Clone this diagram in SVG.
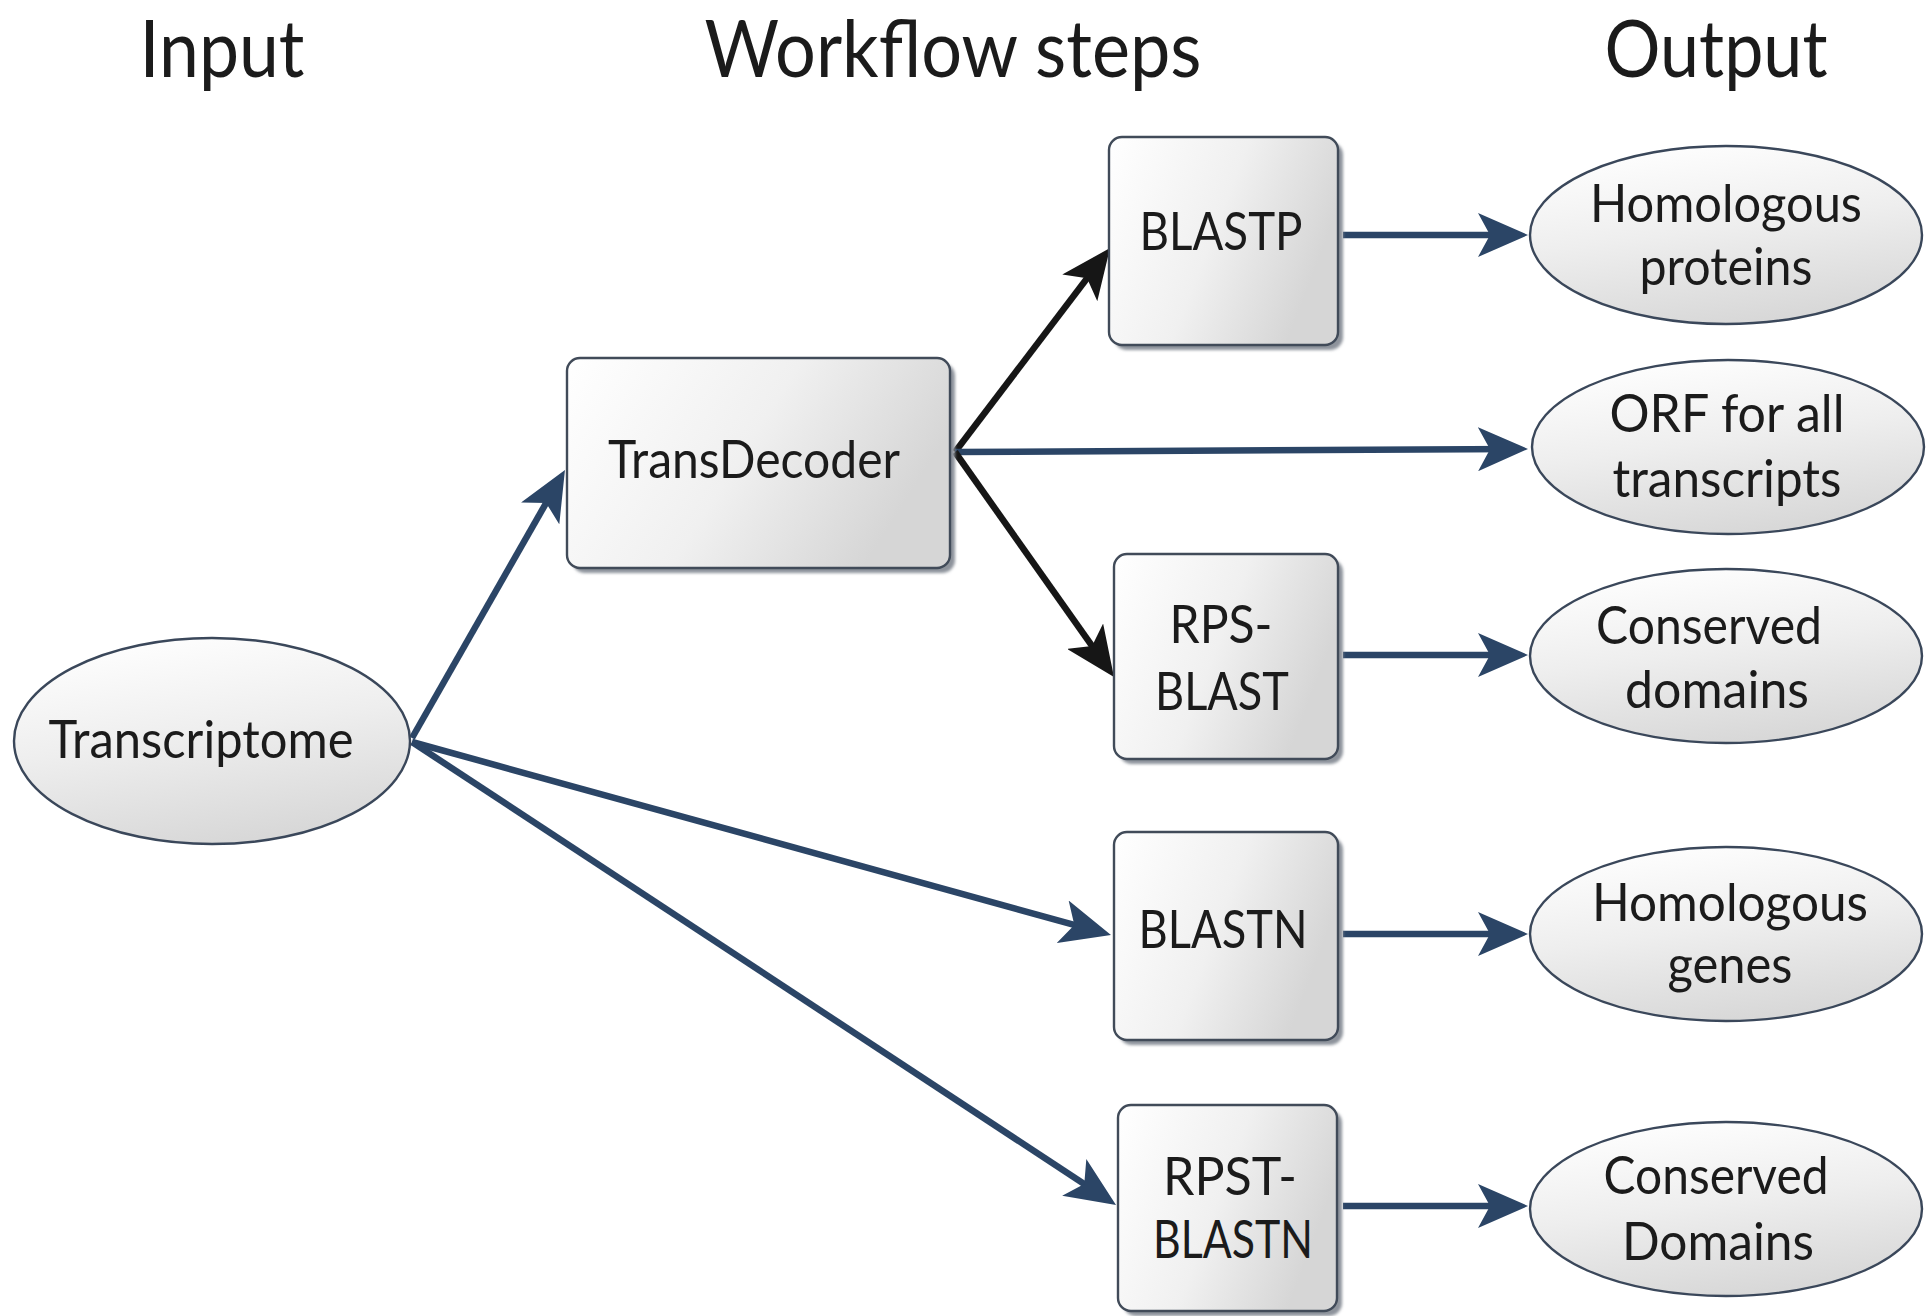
<svg xmlns="http://www.w3.org/2000/svg" width="1930" height="1316" viewBox="0 0 1930 1316">
  <defs>
    <linearGradient id="boxFill" x1="0" y1="0" x2="1" y2="0.35">
      <stop offset="0" stop-color="#ffffff"/>
      <stop offset="0.55" stop-color="#f0f0f0"/>
      <stop offset="1" stop-color="#d6d6d6"/>
    </linearGradient>
    <linearGradient id="ovalFill" x1="0.2" y1="0" x2="0.5" y2="1">
      <stop offset="0" stop-color="#ffffff"/>
      <stop offset="0.5" stop-color="#eeeeee"/>
      <stop offset="1" stop-color="#d8d8d8"/>
    </linearGradient>
    <filter id="soft" x="-10%" y="-10%" width="130%" height="130%">
      <feGaussianBlur stdDeviation="1.6"/>
    </filter>
    <marker id="headBlue" viewBox="0 0 50 44" refX="41" refY="22" markerWidth="50" markerHeight="44" markerUnits="userSpaceOnUse" orient="auto">
      <path d="M0,0 L50,22 L0,44 L12,22 Z" fill="#2b4566"/>
    </marker>
    <marker id="headBlack" viewBox="0 0 50 44" refX="41" refY="22" markerWidth="50" markerHeight="44" markerUnits="userSpaceOnUse" orient="auto">
      <path d="M0,0 L50,22 L0,44 L12,22 Z" fill="#161616"/>
    </marker>
  </defs>
  <style>
    text { font-family: Lato, "Open Sans", "Liberation Sans", sans-serif; fill: #1b1b1b; text-anchor: middle; }
    .title { font-size: 80px; }
    .lbl { font-size: 52px; }
    .box { fill: url(#boxFill); stroke: #414b59; stroke-width: 2.4; }
    .shadow { fill: #8d939b; filter: url(#soft); }
    .oval { fill: url(#ovalFill); stroke: #3a475a; stroke-width: 2.4; }
    .edge { fill: none; stroke-width: 6.5; }
    .blue { stroke: #2b4566; marker-end: url(#headBlue); }
    .black { stroke: #161616; marker-end: url(#headBlack); }
  </style>

  <rect width="1930" height="1316" fill="#ffffff"/>

  <!-- column headings -->
  <g id="headings">
    <text class="title" x="222" y="77" textLength="165" lengthAdjust="spacingAndGlyphs">Input</text>
    <text class="title" x="953" y="77" textLength="497" lengthAdjust="spacingAndGlyphs">Workflow steps</text>
    <text class="title" x="1716" y="77" textLength="223" lengthAdjust="spacingAndGlyphs">Output</text>
  </g>

  <!-- connectors -->
  <g id="connectors">
    <line class="edge blue" x1="412" y1="738" x2="560.5" y2="477.8"/>
    <line class="edge black" x1="955" y1="452" x2="1104.6" y2="255.2"/>
    <line class="edge blue" x1="955" y1="452" x2="1519" y2="449"/>
    <line class="edge black" x1="955" y1="452" x2="1108.8" y2="669.7"/>
    <line class="edge blue" x1="412" y1="742" x2="1102.3" y2="932.6"/>
    <line class="edge blue" x1="412" y1="742" x2="1108.5" y2="1200"/>
    <line class="edge blue" x1="1343" y1="235" x2="1519" y2="235"/>
    <line class="edge blue" x1="1343" y1="655" x2="1519" y2="655"/>
    <line class="edge blue" x1="1343" y1="934" x2="1519" y2="934"/>
    <line class="edge blue" x1="1343" y1="1206" x2="1519" y2="1206"/>
  </g>

  <!-- input -->
  <g id="transcriptome">
    <ellipse class="oval" cx="212" cy="741" rx="198" ry="103"/>
    <text class="lbl" x="201" y="758" textLength="305" lengthAdjust="spacingAndGlyphs">Transcriptome</text>
  </g>

  <!-- workflow steps -->
  <g id="transdecoder">
    <rect class="shadow" x="572" y="363" width="383" height="210" rx="13"/>
    <rect class="box" x="567" y="358" width="383" height="210" rx="13"/>
    <text class="lbl" x="754" y="478" textLength="292" lengthAdjust="spacingAndGlyphs">TransDecoder</text>
  </g>

  <g id="blastp">
    <rect class="shadow" x="1114" y="142" width="229" height="208" rx="13"/>
    <rect class="box" x="1109" y="137" width="229" height="208" rx="13"/>
    <text class="lbl" x="1221" y="250" textLength="163" lengthAdjust="spacingAndGlyphs">BLASTP</text>
  </g>

  <g id="rps-blast">
    <rect class="shadow" x="1119" y="559" width="224" height="205" rx="13"/>
    <rect class="box" x="1114" y="554" width="224" height="205" rx="13"/>
    <text class="lbl" x="1221" y="643" textLength="103" lengthAdjust="spacingAndGlyphs">RPS-</text>
    <text class="lbl" x="1222" y="710" textLength="134" lengthAdjust="spacingAndGlyphs">BLAST</text>
  </g>

  <g id="blastn">
    <rect class="shadow" x="1119" y="837" width="224" height="208" rx="13"/>
    <rect class="box" x="1114" y="832" width="224" height="208" rx="13"/>
    <text class="lbl" x="1223" y="948" textLength="169" lengthAdjust="spacingAndGlyphs">BLASTN</text>
  </g>

  <g id="rpst-blastn">
    <rect class="shadow" x="1123" y="1110" width="219" height="206" rx="13"/>
    <rect class="box" x="1118" y="1105" width="219" height="206" rx="13"/>
    <text class="lbl" x="1230" y="1195" textLength="134" lengthAdjust="spacingAndGlyphs">RPST-</text>
    <text class="lbl" x="1233" y="1258" textLength="160" lengthAdjust="spacingAndGlyphs">BLASTN</text>
  </g>

  <!-- outputs -->
  <g id="homologous-proteins">
    <ellipse class="oval" cx="1726" cy="235" rx="196" ry="89"/>
    <text class="lbl" x="1726" y="222" textLength="272" lengthAdjust="spacingAndGlyphs">Homologous</text>
    <text class="lbl" x="1726" y="285" textLength="173" lengthAdjust="spacingAndGlyphs">proteins</text>
  </g>

  <g id="orf-all-transcripts">
    <ellipse class="oval" cx="1728" cy="447" rx="196" ry="87"/>
    <text class="lbl" x="1727" y="432" textLength="235" lengthAdjust="spacingAndGlyphs">ORF for all</text>
    <text class="lbl" x="1727" y="497" textLength="229" lengthAdjust="spacingAndGlyphs">transcripts</text>
  </g>

  <g id="conserved-domains-protein">
    <ellipse class="oval" cx="1726" cy="656" rx="196" ry="87"/>
    <text class="lbl" x="1709" y="644" textLength="226" lengthAdjust="spacingAndGlyphs">Conserved</text>
    <text class="lbl" x="1717" y="708" textLength="184" lengthAdjust="spacingAndGlyphs">domains</text>
  </g>

  <g id="homologous-genes">
    <ellipse class="oval" cx="1726" cy="934" rx="196" ry="87"/>
    <text class="lbl" x="1730" y="921" textLength="276" lengthAdjust="spacingAndGlyphs">Homologous</text>
    <text class="lbl" x="1730" y="983" textLength="125" lengthAdjust="spacingAndGlyphs">genes</text>
  </g>

  <g id="conserved-domains-nucleotide">
    <ellipse class="oval" cx="1726" cy="1209" rx="196" ry="87"/>
    <text class="lbl" x="1716" y="1194" textLength="225" lengthAdjust="spacingAndGlyphs">Conserved</text>
    <text class="lbl" x="1718" y="1260" textLength="192" lengthAdjust="spacingAndGlyphs">Domains</text>
  </g>
</svg>
